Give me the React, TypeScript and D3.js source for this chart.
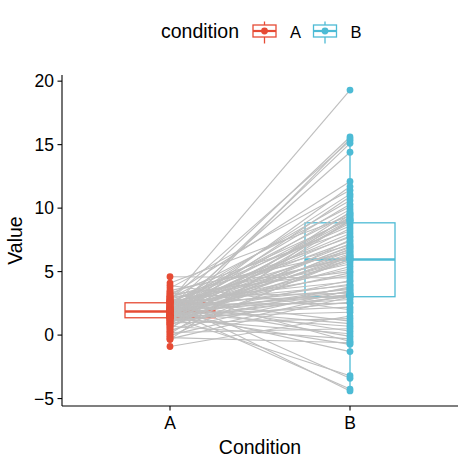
import React from 'react';
import * as d3 from 'd3';

const conditions = ['A', 'B'];
const palette = ['#E64B35', '#4DBBD5'];

const valuesA = [
  4.6, 4.1, 3.9, 3.7, 3.5, 3.4, 3.3, 3.2, 3.1, 3.05,
  3.0, 2.95, 2.9, 2.85, 2.8, 2.76, 2.72, 2.7, 2.67, 2.64,
  2.62, 2.6, 2.58, 2.57, 2.56, 2.54, 2.5, 2.46, 2.42, 2.38,
  2.34, 2.3, 2.27, 2.24, 2.2, 2.17, 2.14, 2.11, 2.08, 2.05,
  2.02, 2.0, 1.98, 1.96, 1.94, 1.92, 1.9, 1.89, 1.88, 1.87,
  1.85, 1.83, 1.8, 1.77, 1.74, 1.71, 1.68, 1.65, 1.62, 1.6,
  1.58, 1.56, 1.54, 1.52, 1.5, 1.48, 1.46, 1.44, 1.42, 1.41,
  1.4, 1.39, 1.38, 1.375, 1.37, 1.35, 1.3, 1.25, 1.2, 1.15,
  1.1, 1.05, 1.0, 0.95, 0.9, 0.85, 0.8, 0.7, 0.6, 0.5,
  0.4, 0.3, 0.2, 0.1, 0.0, -0.1, -0.2, -0.3, -0.35, -0.9,
];

const valuesB = [
  4.5, 9.4, 2.0, 11.4, 6.5, -0.5, 8.2, 5.0, 12.1, 3.3,
  7.1, -3.4, 10.1, 6.05, 1.1, 15.3, 4.2, 19.3, 7.7, 3.05,
  -4.4, 9.1, 5.6, 0.3, 8.6, 3.9, 6.7, 10.6, 2.5, 6.2,
  4.7, -0.1, 9.6, 3.6, 7.4, 15.6, 5.2, 0.9, 8.0, 3.15,
  6.9, -4.25, 11.1, 4.0, 9.2, 2.8, 5.94, 7.8, -1.3, 10.3,
  3.4, 6.4, 14.4, 4.9, 8.8, 0.7, 3.2, 6.1, 9.9, 2.2,
  7.2, 15.1, 5.4, -0.73, 3.7, 9.05, 6.6, 1.8, 8.4, 3.03,
  11.7, 4.3, -3.2, 7.0, 5.8, 10.9, 0.1, 6.3, 3.1, 9.3,
  2.6, 15.45, 5.96, 1.3, 8.97, 3.8, 6.8, -0.3, 7.5, 9.7,
  3.5, 6.0, 0.5, 9.0, 3.25, 6.25, -0.6, 3.0, 9.5, 1.5,
];

const yTicks = [-5, 0, 5, 10, 15, 20];

const FONT = "'Liberation Sans', Arial, Helvetica, sans-serif";

function boxStats(vals: number[]) {
  const s = vals.slice().sort(d3.ascending);
  const q1 = d3.quantileSorted(s, 0.25) as number;
  const med = d3.quantileSorted(s, 0.5) as number;
  const q3 = d3.quantileSorted(s, 0.75) as number;
  const iqr = q3 - q1;
  const lo = d3.min(s.filter((v) => v >= q1 - 1.5 * iqr)) as number;
  const hi = d3.max(s.filter((v) => v <= q3 + 1.5 * iqr)) as number;
  return { q1, med, q3, lo, hi };
}

export default function App() {
  const W = 467;
  const H = 458;
  const left = 62;
  const right = 458;
  const top = 75;
  const bottom = 406;

  const x = d3.scalePoint<string>().domain(conditions).range([left, right]).padding(0.6);
  const all = valuesA.concat(valuesB);
  const [mn, mx] = d3.extent(all) as [number, number];
  const pad = (mx - mn) * 0.05;
  const y = d3.scaleLinear().domain([mn - pad, mx + pad]).range([bottom, top]);

  const groups = [valuesA, valuesB];
  const stats = groups.map(boxStats);
  const bw = x.step() * 0.5;
  const xA = x('A') as number;
  const xB = x('B') as number;

  const boxStroke = 1.3;

  return (
    <svg
      width={W}
      height={H}
      style={{ position: 'absolute', left: 0, top: 0, background: '#fff' }}
      fontFamily={FONT}
    >
      <rect x={0} y={0} width={W} height={H} fill="#fff" />
      {/* boxplots */}
      {stats.map((s, i) => {
        const cx = x(conditions[i]) as number;
        const col = palette[i];
        return (
          <g key={'box' + i}>
            <line x1={cx} x2={cx} y1={y(s.q3)} y2={y(s.hi)} stroke={col} strokeWidth={boxStroke} />
            <line x1={cx} x2={cx} y1={y(s.q1)} y2={y(s.lo)} stroke={col} strokeWidth={boxStroke} />
            <rect
              x={cx - bw / 2}
              y={y(s.q3)}
              width={bw}
              height={y(s.q1) - y(s.q3)}
              fill="#fff"
              stroke={col}
              strokeWidth={boxStroke}
            />
            <line x1={cx - bw / 2} x2={cx + bw / 2} y1={y(s.med)} y2={y(s.med)} stroke={col} strokeWidth={2.6} />
          </g>
        );
      })}
      {/* paired lines */}
      {valuesA.map((a, i) => (
        <line
          key={'l' + i}
          x1={xA}
          x2={xB}
          y1={y(a)}
          y2={y(valuesB[i])}
          stroke="#BEBEBE"
          strokeWidth={1.1}
        />
      ))}
      {/* points */}
      {groups.map((vals, gi) =>
        vals.map((v, i) => (
          <circle
            key={'p' + gi + '-' + i}
            cx={x(conditions[gi]) as number}
            cy={y(v)}
            r={3.4}
            fill={palette[gi]}
          />
        ))
      )}
      {/* axes */}
      <line x1={left} x2={left} y1={top} y2={bottom} stroke="#000" strokeWidth={1.1} />
      <line x1={left} x2={right} y1={bottom} y2={bottom} stroke="#000" strokeWidth={1.1} />
      {yTicks.map((t) => (
        <g key={'yt' + t}>
          <line x1={left - 4.5} x2={left} y1={y(t)} y2={y(t)} stroke="#000" strokeWidth={1.1} />
          <text x={left - 8} y={y(t)} dy="0.36em" textAnchor="end" fontSize={17.5} fill="#000">
            {t < 0 ? '\u2212' + Math.abs(t) : String(t)}
          </text>
        </g>
      ))}
      {conditions.map((c) => (
        <g key={'xt' + c}>
          <line x1={x(c) as number} x2={x(c) as number} y1={bottom} y2={bottom + 4.5} stroke="#000" strokeWidth={1.1} />
          <text x={x(c) as number} y={429} textAnchor="middle" fontSize={17.5} fill="#000">
            {c}
          </text>
        </g>
      ))}
      <text x={(left + right) / 2} y={454} textAnchor="middle" fontSize={19.5} fill="#000">
        Condition
      </text>
      <text
        transform={`translate(22,${(top + bottom) / 2}) rotate(-90)`}
        textAnchor="middle"
        fontSize={19.5}
        fill="#000"
      >
        Value
      </text>
      {/* legend */}
      <text x={161} y={38} fontSize={19.5} fill="#000">
        condition
      </text>
      {conditions.map((c, i) => {
        const kx = i === 0 ? 264.5 : 325;
        const col = palette[i];
        return (
          <g key={'lg' + c}>
            <line x1={kx} x2={kx} y1={21.5} y2={43.5} stroke={col} strokeWidth={boxStroke} />
            <rect x={kx - 11.5} y={25} width={23} height={12} fill="#fff" stroke={col} strokeWidth={boxStroke} />
            <line x1={kx - 11.5} x2={kx + 11.5} y1={31} y2={31} stroke={col} strokeWidth={2.2} />
            <circle cx={kx} cy={31} r={3.4} fill={col} />
            <text x={kx + 25.5} y={38} fontSize={16.5} fill="#000">
              {c}
            </text>
          </g>
        );
      })}
    </svg>
  );
}
